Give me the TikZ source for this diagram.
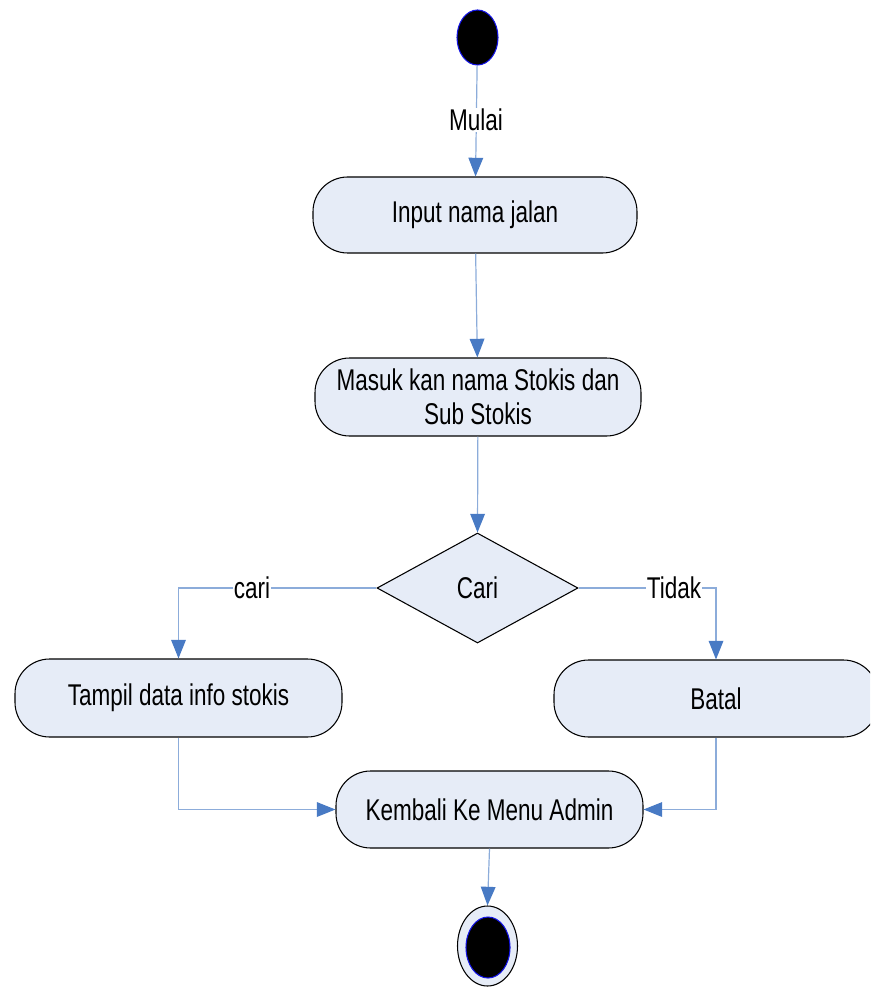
\documentclass[tikz,border=0pt]{standalone}
\usepackage{fontspec}
\setmainfont{Liberation Sans}[FakeStretch=0.75]
\usetikzlibrary{shapes.geometric,arrows.meta}
\definecolor{boxfill}{RGB}{230,236,247}
\definecolor{flowline}{RGB}{140,172,218}
\definecolor{tipblue}{RGB}{72,122,196}
\definecolor{ringblue}{RGB}{20,20,230}
\begin{document}
\begin{tikzpicture}[x=0.75pt,y=-0.75pt,
  font=\fontsize{22.5pt}{25.5pt}\selectfont,
  activity/.style={draw=black,line width=0.8pt,fill=boxfill,rectangle,
    rounded corners=26pt,align=center,inner sep=2pt},
  decision/.style={draw=black,line width=0.8pt,fill=boxfill,diamond,
    inner sep=0pt,minimum width=150.75pt,minimum height=82.5pt},
  flow/.style={draw=flowline,line width=0.9pt,
    -{Triangle[length=14pt,width=11pt,color=tipblue]}},
  guard/.style={fill=white,inner sep=1pt}]
\useasboundingbox (0,0) rectangle (870,987);
\begin{scope}
\clip (0,0) rectangle (870,987);

% initial and final states
\node[ellipse,draw=ringblue,line width=0.8pt,fill=black,
  minimum width=30.75pt,minimum height=41.25pt,inner sep=0pt] (start) at (477.5,37.5) {};
\node[ellipse,draw=black,line width=0.8pt,fill=boxfill,
  minimum width=45pt,minimum height=60pt,inner sep=0pt] (finish) at (487.5,946) {};
\node[ellipse,draw=ringblue,line width=0.8pt,fill=black,
  minimum width=33pt,minimum height=45.75pt,inner sep=0pt] (finishdot) at (488,947.5) {};

% activities
\node[activity,minimum width=243pt,minimum height=57pt] (input) at (475,215) {Input nama jalan};
\node[activity,minimum width=244.5pt,minimum height=58.5pt] (masuk) at (478,397)
  {Masuk kan nama Stokis dan\\Sub Stokis};
\node[decision] (cari) at (477.5,588) {Cari};
\node[activity,minimum width=245.25pt,minimum height=58.5pt] (tampil) at (178.5,698) {Tampil data info stokis};
\node[activity,minimum width=243pt,minimum height=57.75pt] (batal) at (716,698.5) {Batal};
\node[activity,minimum width=230.25pt,minimum height=57.75pt] (kembali) at (489.5,809.5) {Kembali Ke Menu Admin};

% control flows
\draw[flow] (start) -- (input);
\node[guard] (mulai) at (476,120) {Mulai};
\draw[flow] (input) -- (masuk);
\draw[flow] (masuk) -- (cari.north);
\draw[flow] (cari.west) -| (tampil.north);
\node[guard] (lcari) at (252,588) {cari};
\draw[flow] (cari.east) -| (batal.north);
\node[guard] (ltidak) at (674,588) {Tidak};
\draw[flow] (tampil.south) |- (kembali.west);
\draw[flow] (batal.south) |- (kembali.east);
\draw[flow] (kembali.south) -- (finish.north);
\end{scope}
\end{tikzpicture}
\end{document}
